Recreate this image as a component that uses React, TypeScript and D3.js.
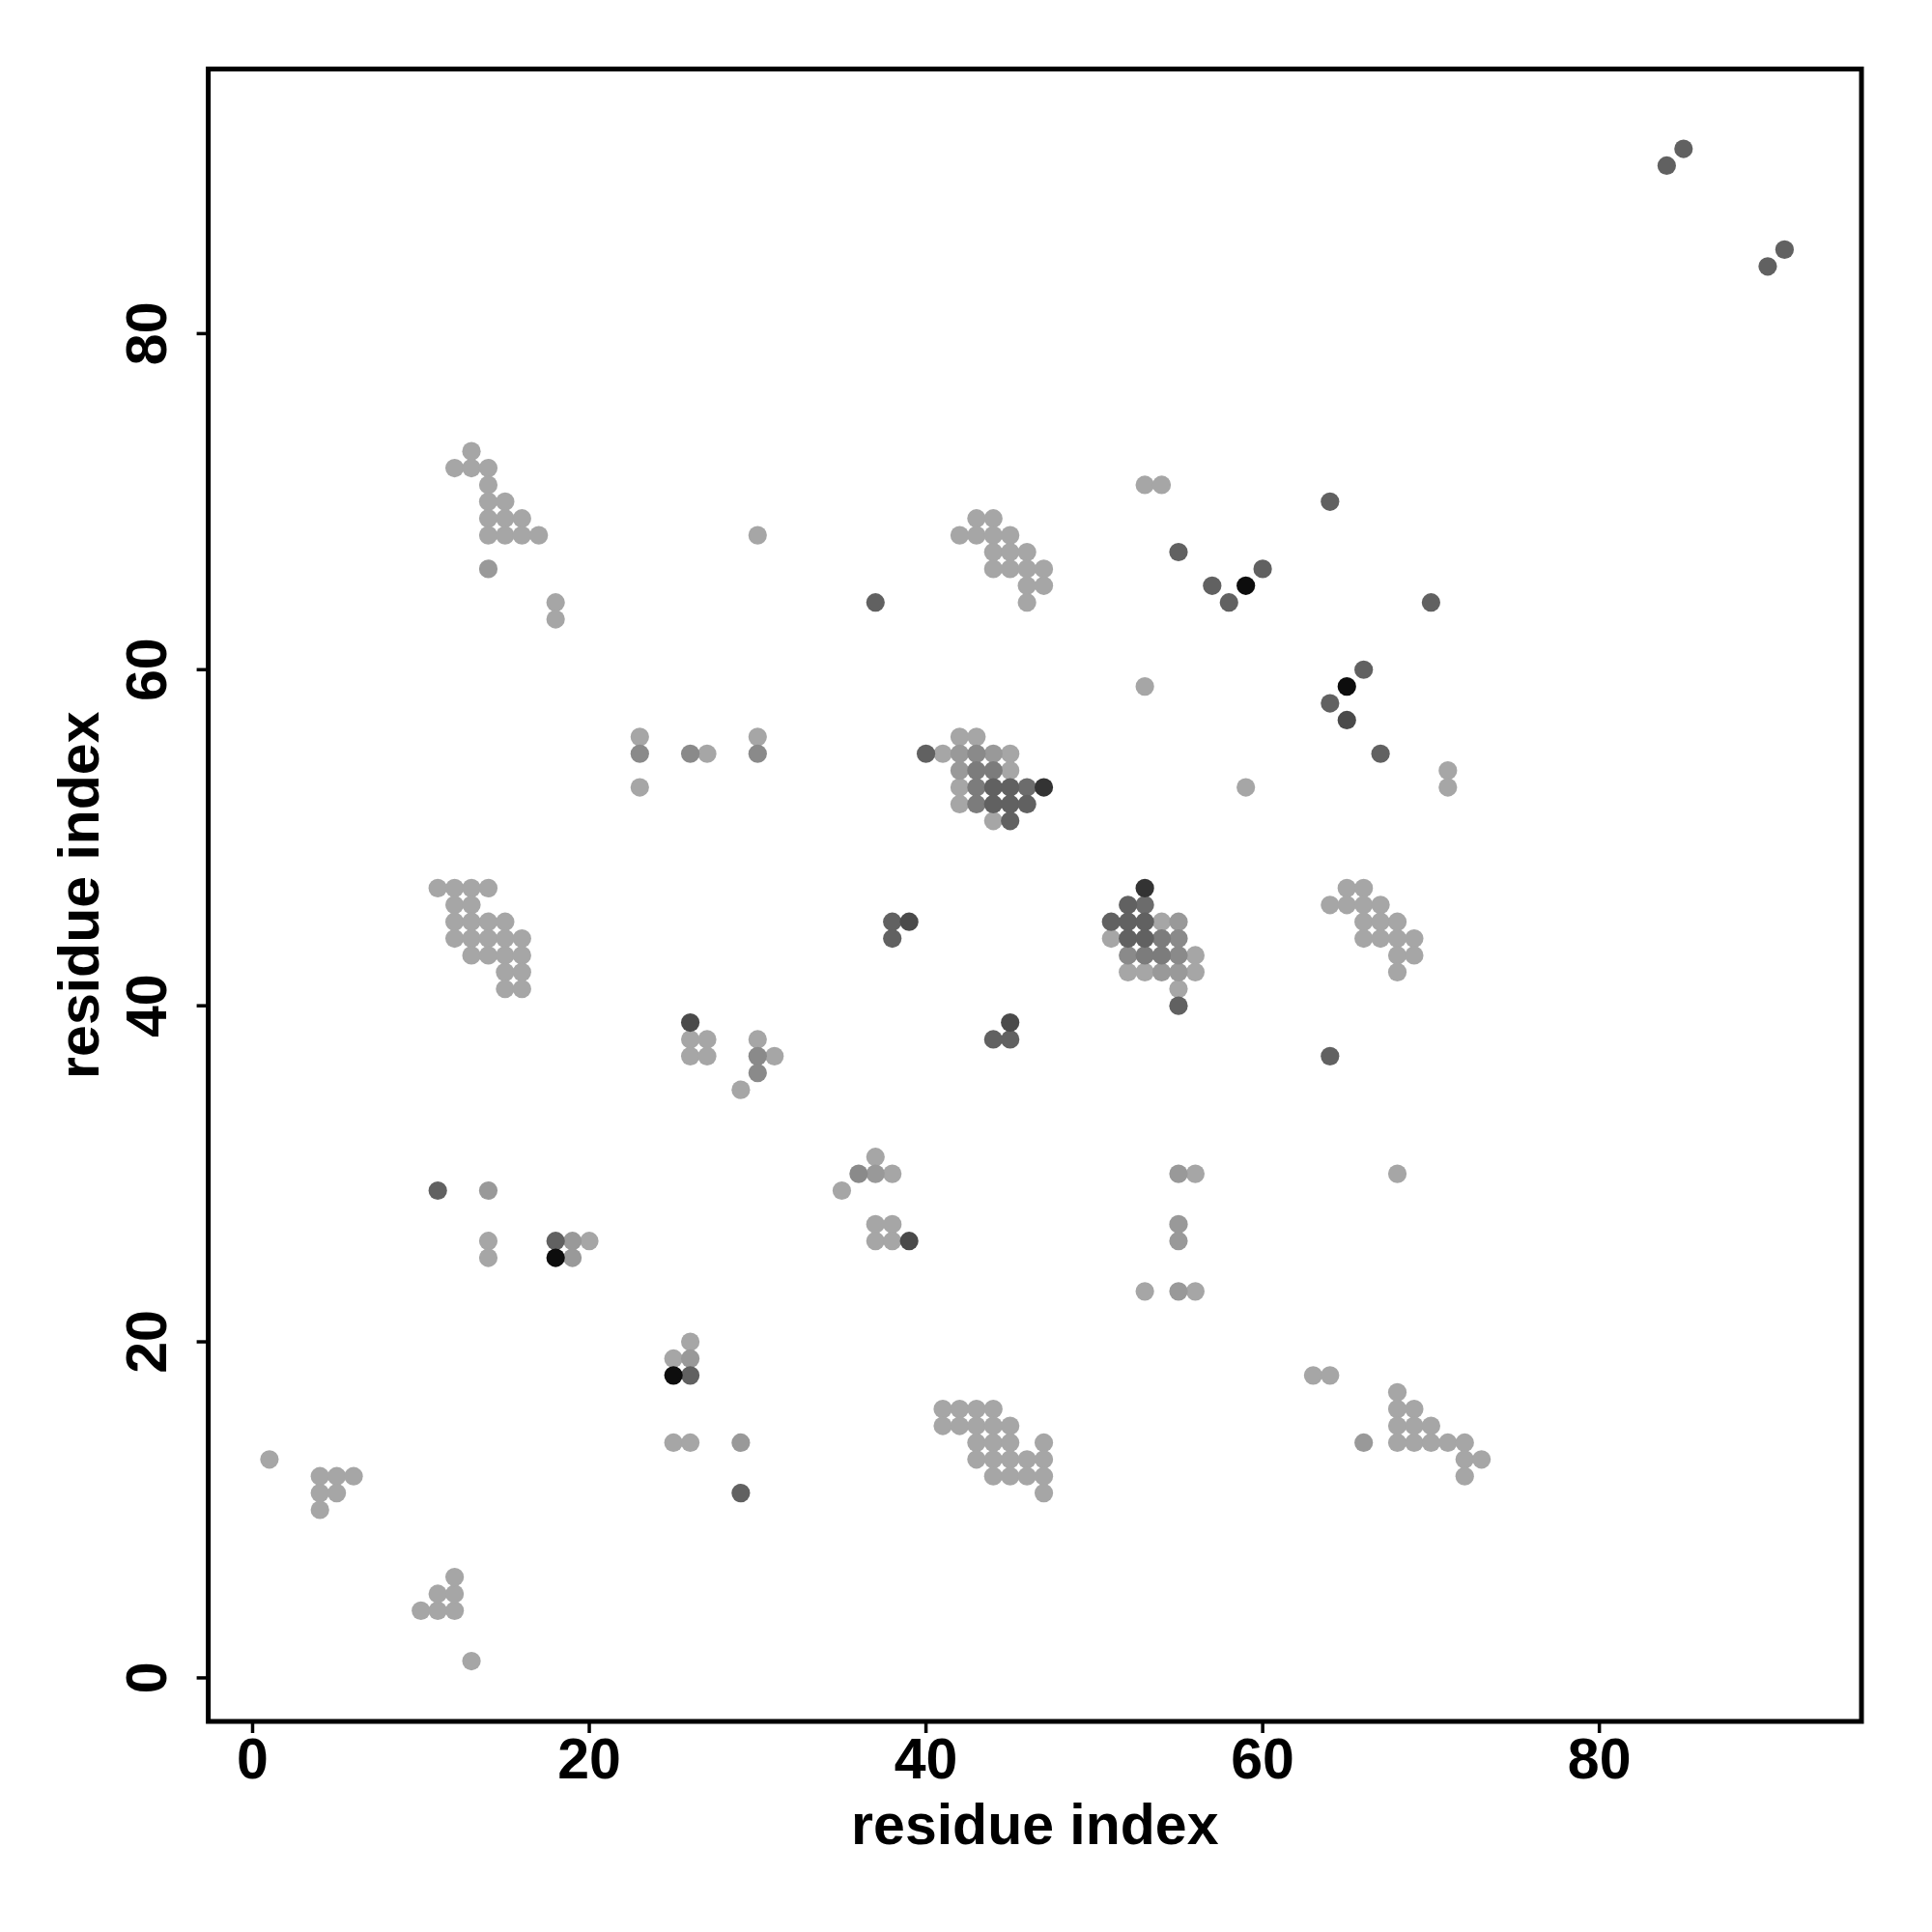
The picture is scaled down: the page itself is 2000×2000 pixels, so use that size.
import React from "react";
import * as d3 from "d3";

// Contact map: residue pairs grouped by shade level (lightest -> darkest)
const shadeColors = ["#a6a6a6", "#999999", "#8a8a8a", "#7c7c7c", "#6c6c6c", "#616161", "#4a4a4a", "#333333", "#0d0d0d"];

const level0: [number, number][] = [
  [1, 13], [4, 12], [5, 12], [6, 12], [4, 11], [5, 11], [4, 10], [10, 4], [11, 4], [12, 4], [11, 5], [12, 5], [12, 6], [13, 1],
  [14, 26], [14, 25], [20, 26],
  [25, 19], [26, 20], [25, 14], [26, 14],
  [41, 16], [42, 16], [43, 16], [44, 16], [41, 15], [42, 15], [43, 15], [44, 15], [45, 15], [43, 14], [44, 14], [45, 14], [47, 14],
  [43, 13], [44, 13], [45, 13], [46, 13], [47, 13], [44, 12], [45, 12], [46, 12], [47, 12], [47, 11],
  [63, 18], [64, 18],
  [68, 17], [68, 16], [69, 16], [68, 15], [69, 15], [70, 15], [68, 14], [69, 14], [70, 14], [71, 14], [72, 14], [72, 13], [73, 13], [72, 12],
  [53, 23], [56, 23], [56, 30],
  [35, 29], [38, 30], [37, 31], [37, 27], [38, 27], [37, 26], [38, 26],
  [68, 30],
  [29, 35], [31, 37], [30, 38], [26, 38], [27, 38], [26, 37], [27, 37],
  [11, 47], [12, 47], [13, 47], [14, 47], [12, 46], [13, 46], [12, 45], [13, 45], [14, 45], [15, 45],
  [12, 44], [13, 44], [14, 44], [15, 44], [16, 44], [13, 43], [14, 43], [15, 43], [16, 43], [15, 42], [16, 42], [15, 41], [16, 41],
  [54, 45], [51, 44], [56, 43], [52, 42], [53, 42], [56, 42], [55, 41],
  [65, 47], [66, 47], [64, 46], [65, 46], [66, 46], [67, 46], [66, 45], [67, 45], [68, 45], [66, 44], [67, 44], [68, 44], [69, 44], [68, 43], [69, 43], [68, 42],
  [23, 56], [23, 53], [27, 55], [30, 56],
  [42, 56], [43, 56], [41, 55], [45, 55], [45, 54], [42, 53], [42, 52], [44, 51],
  [53, 59], [59, 53], [71, 54], [71, 53],
  [18, 64], [18, 63],
  [13, 73], [12, 72], [13, 72], [14, 72], [14, 71], [14, 70], [15, 70], [14, 69], [15, 69], [16, 69], [14, 68], [15, 68], [16, 68], [17, 68],
  [30, 68],
  [43, 69], [44, 69], [42, 68], [43, 68], [44, 68], [45, 68], [44, 67], [45, 67], [46, 67], [44, 66], [45, 66], [46, 66], [47, 66], [46, 65], [47, 65], [46, 64],
  [53, 71], [54, 71],
];
const level1: [number, number][] = [
  [14, 29], [19, 26], [19, 25], [26, 19], [29, 14], [55, 23], [55, 27], [55, 26], [55, 30], [37, 30],
  [55, 45], [54, 42], [55, 42], [42, 55], [44, 55], [42, 54], [14, 66], [66, 14],
];
const level2: [number, number][] = [
  [36, 30], [55, 44], [52, 43], [55, 43], [23, 55], [26, 55], [30, 55], [43, 55], [30, 37], [30, 36],
];
const level3: [number, number][] = [
  [54, 44], [53, 43], [54, 43], [43, 54], [44, 54], [43, 53], [43, 52],
];
const level4: [number, number][] = [[53, 46], [46, 53]];
const level5: [number, number][] = [
  [11, 29], [18, 26], [26, 18], [29, 11], [64, 37], [44, 38], [45, 38], [38, 45], [38, 44],
  [52, 46], [51, 45], [52, 45], [53, 45], [52, 44], [53, 44], [55, 40],
  [40, 55], [44, 53], [45, 53], [44, 52], [45, 52], [46, 52], [45, 51],
  [64, 58], [66, 60], [67, 55], [37, 64], [55, 67], [57, 65], [58, 64], [60, 66], [64, 70], [70, 64],
  [84, 90], [85, 91], [90, 84], [91, 85],
];
const level6: [number, number][] = [[39, 26], [45, 39], [26, 39], [39, 45], [65, 57]];
const level7: [number, number][] = [[53, 47], [47, 53]];
const level8: [number, number][] = [[18, 25], [25, 18], [65, 59], [59, 65]];

const levels = [level0, level1, level2, level3, level4, level5, level6, level7, level8];

const xTicks = [0, 20, 40, 60, 80];
const yTicks = [0, 20, 40, 60, 80];
const xTitle = "residue index";
const yTitle = "residue index";

export default function App() {
  const left = 215.6, right = 1927, top = 71.4, bottom = 1782;
  const x = d3.scaleLinear().domain([-2.633, 95.57]).range([left, right]);
  const y = d3.scaleLinear().domain([-2.59, 95.75]).range([bottom, top]);
  const font = "'Liberation Sans', Arial, Helvetica, sans-serif";
  const fs = 59;
  const pts = levels.flatMap((lv, i) => lv.map((p) => ({ p, c: shadeColors[i] })));
  return (
    <svg width={2000} height={2000} style={{ position: "absolute", left: 0, top: 0, background: "#fff" }}>
      <rect x={0} y={0} width={2000} height={2000} fill="#fff" />
      {pts.map((d, i) => (
        <circle key={i} cx={x(d.p[0])} cy={y(d.p[1])} r={9.6} fill={d.c} />
      ))}
      <rect x={left} y={top} width={right - left} height={bottom - top} fill="none" stroke="#000" strokeWidth={5} />
      {xTicks.map((t) => (
        <g key={"x" + t}>
          <line x1={x(t)} x2={x(t)} y1={bottom} y2={bottom + 12} stroke="#000" strokeWidth={3.5} />
          <text x={x(t)} y={1841} textAnchor="middle" fontFamily={font} fontWeight="bold" fontSize={fs}>{t}</text>
        </g>
      ))}
      {yTicks.map((t) => (
        <g key={"y" + t}>
          <line x1={left} x2={left - 12} y1={y(t)} y2={y(t)} stroke="#000" strokeWidth={3.5} />
          <text transform={`translate(172,${y(t)}) rotate(-90)`} textAnchor="middle" fontFamily={font} fontWeight="bold" fontSize={fs}>{t}</text>
        </g>
      ))}
      <text x={(left + right) / 2} y={1909} textAnchor="middle" fontFamily={font} fontWeight="bold" fontSize={fs}>{xTitle}</text>
      <text transform={`translate(102,${(top + bottom) / 2}) rotate(-90)`} textAnchor="middle" fontFamily={font} fontWeight="bold" fontSize={fs}>{yTitle}</text>
    </svg>
  );
}
